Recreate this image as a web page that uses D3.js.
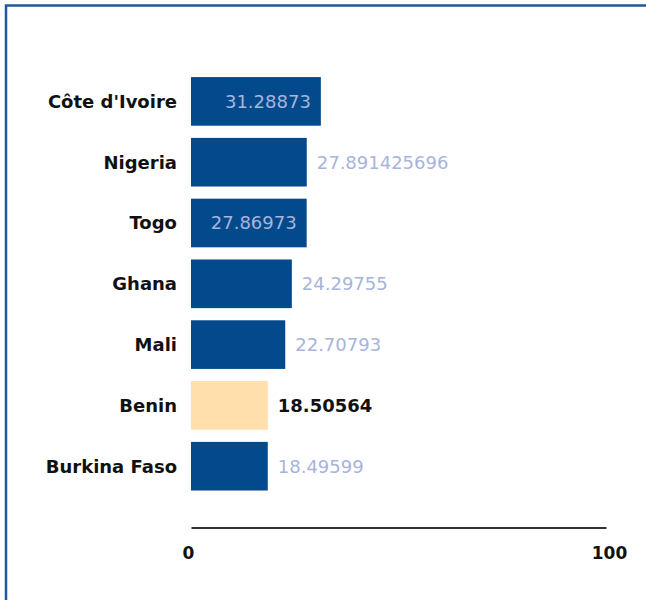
<!DOCTYPE html>
<html>

<head>
  <meta charset='utf-8'>
  <script type="text/javascript" src="https://cdn.jsdelivr.net/npm/d3@7/dist/d3.min.js"></script>
  <style>
    body { margin: 0; background: #fff; overflow: hidden; }
    svg { display: block; }
    text { font-family: "DejaVu Sans", Verdana, sans-serif; }
  </style>
</head>

<body>
</body>
<script>
  let countries = ["Côte d'Ivoire", "Nigeria", "Togo", "Ghana", "Mali", "Benin", "Burkina Faso"]
  let values = [31.28873, 27.891425696, 27.86973, 24.29755, 22.70793, 18.50564, 18.49599]
  let valueLabels = ["31.28873", "27.891425696", "27.86973", "24.29755", "22.70793", "18.50564", "18.49599"]
  let highlight = "Benin"
  let tickValues = [0, 100]

  let w = 646
  let h = 600
  let barColor = "#034a8c"
  let hiColor = "#ffdfab"
  let labelColor = "#a7b4dc"

  let dataset = countries.map(function (c, i) {
    return { name: c, value: values[i], label: valueLabels[i] }
  })

  let svg = d3.select('body')
    .append('svg')
    .attr('width', w)
    .attr('height', h)

  // frame: only top and left edges show in the shot
  svg.append("path")
    .attr("d", "M6," + h + "V5.5H" + w)
    .attr("fill", "none")
    .attr("stroke", "#1f5a9c")
    .attr("stroke-width", 2.5)

  let xScale = d3.scaleLinear()
    .domain([0, 100])
    .range([191, 606])

  let yScale = d3.scaleBand()
    .domain(countries)
    .range([71, 496.6])
    .paddingInner(0.2)
    .paddingOuter(0.1)

  let rows = svg.selectAll('g.row')
    .data(dataset)
    .enter()
    .append('g')
    .attr('class', 'row')

  rows.append('rect')
    .attr("x", xScale(0))
    .attr("y", d => yScale(d.name))
    .attr("width", d => xScale(d.value) - xScale(0))
    .attr("height", yScale.bandwidth())
    .attr("fill", d => d.name == highlight ? hiColor : barColor)

  // category labels
  rows.append('text')
    .attr("x", xScale(0) - 14)
    .attr("y", d => yScale(d.name) + yScale.bandwidth() / 2)
    .attr("dy", "0.35em")
    .attr("text-anchor", "end")
    .attr("font-size", 18)
    .attr("font-weight", "bold")
    .attr("fill", "#111")
    .text(d => d.name)

  // value labels, inside the bar when they fit
  let pad = 10
  rows.append('text')
    .attr("y", d => yScale(d.name) + yScale.bandwidth() / 2)
    .attr("dy", "0.35em")
    .attr("font-size", 18)
    .attr("font-weight", d => d.name == highlight ? "bold" : "normal")
    .attr("fill", d => d.name == highlight ? "#111" : labelColor)
    .text(d => d.label)
    .each(function (d) {
      let tw = this.getComputedTextLength()
      let bw = xScale(d.value) - xScale(0)
      let t = d3.select(this)
      if (d.name != highlight && tw + 2 * pad <= bw) {
        t.attr("x", xScale(d.value) - pad).attr("text-anchor", "end")
      } else {
        t.attr("x", xScale(d.value) + pad).attr("text-anchor", "start")
      }
    })

  //axis
  let xAxis = d3.axisBottom(xScale)
    .tickValues(tickValues)
    .tickSize(0)
    .tickPadding(19)
    .tickFormat(d3.format("d"))

  let axisG = svg.append("g")
    .attr("transform", "translate(0, 527.5)")
    .call(xAxis)
  axisG.select(".domain")
    .attr("stroke", "#333")
    .attr("stroke-width", 2)
  axisG.selectAll(".tick text")
    .attr("font-family", "DejaVu Sans")
    .attr("font-size", 17)
    .attr("font-weight", "bold")
    .attr("fill", "#111")
    .attr("dx", d => d == 0 ? -3 : 3)
</script>

</html>
